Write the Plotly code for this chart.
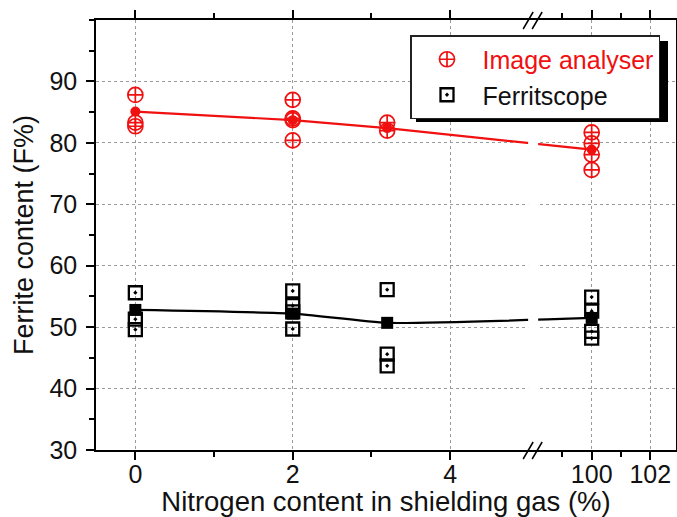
import plotly.graph_objects as go

# ---------------- data ----------------
n_levels = [0, 2, 3.2, 100]

ia_x = [0, 0, 0, 2, 2, 2, 2, 3.2, 3.2, 100, 100, 100, 100]
ia_y = [87.8, 83.3, 82.7, 87.0, 84.0, 83.7, 80.4, 83.3, 82.0, 81.7, 79.9, 78.1, 75.6]
ia_mean = [85.1, 83.7, 82.4, 78.9]

fs_x = [0, 0, 0, 2, 2, 2, 2, 3.2, 3.2, 3.2, 100, 100, 100, 100]
fs_y = [55.6, 51.3, 49.6, 55.9, 53.5, 52.5, 49.7, 56.1, 45.6, 43.7, 54.9, 52.6, 49.3, 48.2]
fs_mean = [52.8, 52.2, 50.7, 51.5]

x_major = [0, 2, 4, 100, 102]
x_minor = [1, 3, 99, 101]
y_major = [30, 40, 50, 60, 70, 80, 90]

# ---------------- broken x axis ----------------
LEFT_END = 5.055      # where the left segment stops
RIGHT_START = 98.0    # first value of the right segment
RIGHT_RATIO = 0.372   # width of one unit on the right segment vs left segment


def to_axis(v):
    return v if v <= LEFT_END else LEFT_END + (v - RIGHT_START) * RIGHT_RATIO


def tx(vals):
    return [to_axis(v) for v in vals]


FONT = "Liberation Sans, Arial, Helvetica, sans-serif"
RED = "#f01010"

fig = go.Figure()

fig.add_trace(go.Scatter(
    x=tx(n_levels), y=ia_mean, mode="lines+markers", showlegend=False,
    line=dict(color=RED, width=2.2),
    marker=dict(symbol="circle", size=10, color=RED),
))
fig.add_trace(go.Scatter(
    x=tx(n_levels), y=fs_mean, mode="lines+markers", showlegend=False,
    line=dict(color="black", width=2.2, shape="spline", smoothing=0.5),
    marker=dict(symbol="square", size=12, color="black"),
))
fig.add_trace(go.Scatter(
    x=tx(ia_x), y=ia_y, mode="markers",
    name="<span style='color:%s'>Image analyser</span>" % RED,
    marker=dict(symbol="circle-cross-open", size=15, color=RED,
                line=dict(width=1.7, color=RED)),
))
fig.add_trace(go.Scatter(
    x=tx(fs_x), y=fs_y, mode="markers", name="Ferritscope",
    marker=dict(symbol="square-open-dot", size=13, color="black",
                line=dict(width=2.3, color="black")),
))

bx = to_axis(LEFT_END)
shapes = [
    # gap in the curves at the axis break
    dict(type="rect", xref="x", yref="paper", xsizemode="pixel", xanchor=bx,
         x0=-5, x1=5, y0=0.012, y1=0.988, fillcolor="white",
         line=dict(width=0), layer="above"),
]
for ya in (0, 1):
    for off in (-6, 3):
        shapes.append(dict(type="line", xref="x", yref="paper",
                           xsizemode="pixel", ysizemode="pixel",
                           xanchor=bx, yanchor=ya,
                           x0=off - 4, y0=-9, x1=off + 6, y1=8,
                           line=dict(color="black", width=1.5)))
# legend shadow
shapes.append(dict(type="rect", xref="paper", yref="paper",
                   x0=(416 - 96) / 580, x1=(668 - 96) / 580,
                   y0=(450 - 122) / 430, y1=(450 - 41) / 430,
                   fillcolor="black", line=dict(width=0), layer="above"))

axis_common = dict(
    showline=True, linecolor="black", linewidth=1.5, mirror="ticks",
    ticks="outside", tickcolor="black", tickwidth=1.5, ticklen=8,
    showgrid=True, gridcolor="#9a9a9a", gridwidth=1, griddash="3px,3px",
    zeroline=False, automargin=False,
    tickfont=dict(family=FONT, size=25, color="#111"),
)

fig.update_layout(
    width=677, height=517,
    margin=dict(l=96, r=1, t=20, b=67),
    paper_bgcolor="white", plot_bgcolor="white",
    font=dict(family=FONT, color="#111"),
    shapes=shapes,
    xaxis=dict(
        range=[to_axis(-0.5), to_axis(102.88)],
        tickmode="array", tickvals=tx(x_major), ticktext=[str(v) for v in x_major],
        minor=dict(tickmode="array", tickvals=tx(x_minor), ticks="outside",
                   ticklen=5, tickcolor="black", tickwidth=1.5, showgrid=False),
        ticklabelstandoff=-7,
        title=dict(text="Nitrogen content in shielding gas (%)",
                   font=dict(family=FONT, size=27.5, color="#111"), standoff=0),
        **axis_common,
    ),
    yaxis=dict(
        range=[30, 100],
        tickmode="array", tickvals=y_major, ticktext=[str(v) for v in y_major],
        minor=dict(dtick=5, ticks="outside", ticklen=5, tickcolor="black",
                   tickwidth=1.5, showgrid=False),
        ticklabelstandoff=4,
        title=dict(text="Ferrite content (F%)",
                   font=dict(family=FONT, size=27, color="#111"), standoff=8),
        **axis_common,
    ),
    legend=dict(
        x=(410 - 96) / 580, y=(450 - 35) / 430, xanchor="left", yanchor="top",
        bgcolor="white", bordercolor="#222", borderwidth=1.5,
        font=dict(family=FONT, size=25, color="#111"),
        itemwidth=61, tracegroupgap=0,
    ),
)

fig.write_html("out.html",
               config={"displayModeBar": False},
               post_script="document.body.style.margin='0px';")
